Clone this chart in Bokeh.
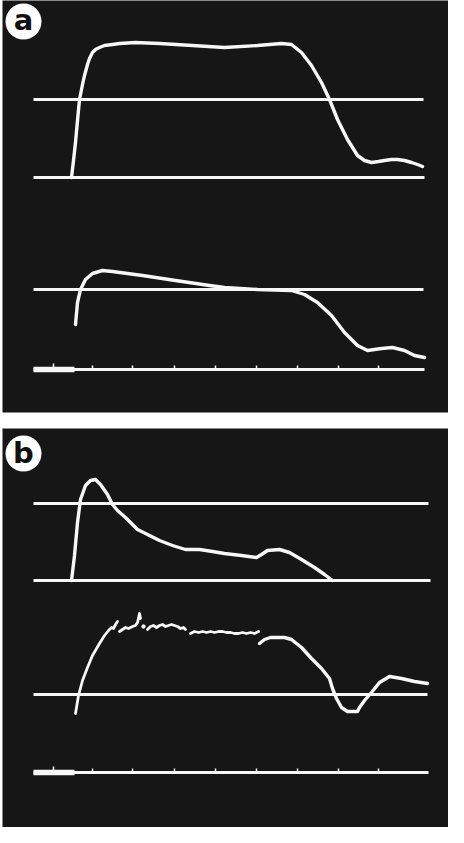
import numpy as np
from bokeh.plotting import figure
from bokeh.models import Range1d
from bokeh.core.properties import value
from bokeh.embed import file_html
from bokeh.resources import INLINE

# ---- data (oscilloscope traces; x = sweep position, y = screen height from top) ----
panel_names = ["a", "b"]
panel_x0 = [10, 10]
panel_x1 = [464, 464]
panel_top = [5, 436]
panel_bottom = [420, 843]

label_x = [31, 31]
label_y = [29, 461]

# horizontal reference lines: (x start, x end, level)
ref_x0 = [41, 41, 41, 41, 41, 41, 41, 41]
ref_x1 = [431, 432, 431, 432, 436, 438, 435, 436]
ref_y = [107, 185, 297, 377, 511, 588, 702, 780]

# timing marks on the lowest baseline of each panel
tick_x = [61, 100, 140, 182, 223, 264, 305, 346, 386]
tick_base = [377, 780]

# panel a, upper trace
a1_x = [79, 81, 83, 85, 87, 90, 92, 95, 97, 100, 103, 107, 112, 120, 127, 143, 167, 200, 232, 265, 289, 299,
        309, 319, 329, 337, 345, 355, 365, 372, 379, 386, 392, 399, 405, 412, 419, 425, 430]
a1_y = [185, 168, 150, 128, 107, 92, 83, 72, 66, 60, 57, 55, 53, 52, 51, 50, 51, 53, 55, 53, 51, 52,
        60, 73, 90, 107, 127, 147, 163, 168, 170, 169, 168, 167, 167, 168, 170, 172, 174]

# panel a, lower trace
a2_x = [83, 85, 88, 93, 100, 110, 120, 150, 183, 217, 232, 265, 299, 312, 325, 339, 352, 365, 375, 382, 389,
        400, 412, 422, 432]
a2_y = [332, 310, 297, 287, 281, 278, 279, 283, 288, 293, 295, 297, 298, 302, 310, 323, 340, 353, 358, 357, 356,
        355, 358, 363, 365]

# panel b, upper trace
b1_x = [79, 82, 85, 88, 93, 98, 103, 108, 115, 120, 125, 133, 145, 157, 167, 180, 193, 207, 220, 232, 249, 264,
        269, 275, 287, 297, 309, 322, 332, 340]
b1_y = [588, 563, 530, 507, 493, 488, 487, 492, 502, 512, 518, 525, 537, 543, 548, 553, 557, 557, 559, 561, 563,
        565, 562, 558, 557, 560, 567, 575, 582, 588]

# panel b, lower trace: pieces separated by gaps in the photographed trace
b2_seg1_x = [83, 86, 90, 95, 100, 107, 112, 116, 119, 121, 123, 125]
b2_seg1_y = [721, 703, 688, 675, 663, 651, 643, 638, 635, 636, 632, 629]
b2_seg2_x = [127, 130, 133, 136, 140, 143, 145, 147, 148]
b2_seg2_y = [639, 637, 635, 636, 634, 633, 630, 621, 626]
b2_dot_x = [151]
b2_dot_y = [634]
b2_seg3_x = [155, 158, 161, 164, 167, 170, 173, 176, 179, 182, 185, 188, 191, 193]
b2_seg3_y = [637, 634, 633, 635, 633, 632, 634, 633, 632, 633, 634, 636, 635, 637]
b2_seg4_x = [198, 202, 206, 210, 214, 218, 222, 226, 230, 234, 238, 242, 246, 250, 254, 258, 262, 266]
b2_seg4_y = [641, 639, 640, 639, 640, 639, 640, 639, 639, 640, 640, 641, 641, 640, 641, 640, 641, 639]
b2_seg5_x = [267, 272, 278, 285, 292, 299, 309, 319, 329, 337, 340, 344, 349, 355, 360, 365, 367, 372, 379, 387,
             397, 409, 422, 435]
b2_seg5_y = [651, 647, 645, 645, 645, 647, 655, 666, 676, 686, 696, 706, 715, 719, 719, 719, 715, 708, 700, 690,
             684, 686, 689, 691]

# ---- drawing ----
SCREEN = "#161616"
TRACE = "#f7f7f7"

p = figure(width=448, height=827, output_backend="svg", toolbar_location=None,
           x_range=Range1d(8, 456), y_range=Range1d(835, 8),
           min_border=0, background_fill_color="white", border_fill_color="white")
p.axis.visible = False
p.grid.visible = False
p.outline_line_color = None

p.quad(left=panel_x0, right=panel_x1, top=panel_top, bottom=panel_bottom,
       fill_color=SCREEN, line_color=None)

p.segment(x0=ref_x0, x1=ref_x1, y0=ref_y, y1=ref_y, line_color=TRACE, line_width=3.2)

# thicker start of the lowest baselines
p.segment(x0=[41, 41], x1=[82, 82], y0=tick_base, y1=tick_base, line_color=TRACE, line_width=5.5)

tx = tick_x * 2
ty0 = [tick_base[0]] * len(tick_x) + [tick_base[1]] * len(tick_x)
ty1 = [y - 4 for y in ty0]
ty1[0] = tick_base[0] - 6
ty1[len(tick_x)] = tick_base[1] - 6
p.segment(x0=tx, x1=tx, y0=ty0, y1=ty1, line_color=TRACE, line_width=1.5)

for xs, ys in [(a1_x, a1_y), (a2_x, a2_y), (b1_x, b1_y), (b2_seg5_x, b2_seg5_y)]:
    p.line(xs, ys, line_color=TRACE, line_width=3.4, line_join="round", line_cap="round")

for xs, ys in [(b2_seg1_x, b2_seg1_y), (b2_seg2_x, b2_seg2_y), (b2_seg3_x, b2_seg3_y), (b2_seg4_x, b2_seg4_y)]:
    p.line(xs, ys, line_color=TRACE, line_width=2.8, line_join="round", line_cap="round")
p.scatter(b2_dot_x, b2_dot_y, size=3.5, color=TRACE)

# panel labels
p.circle(x=label_x, y=label_y, radius=18, fill_color="white", line_color=None)
p.text(x=label_x, y=[label_y[0] - 2, label_y[1] - 1], text=panel_names, text_align="center",
       text_baseline="middle", text_color="#111111", text_font=value("DejaVu Sans"),
       text_font_style="bold", text_font_size="29px")

open("out.html", "w").write(file_html(p, INLINE))
